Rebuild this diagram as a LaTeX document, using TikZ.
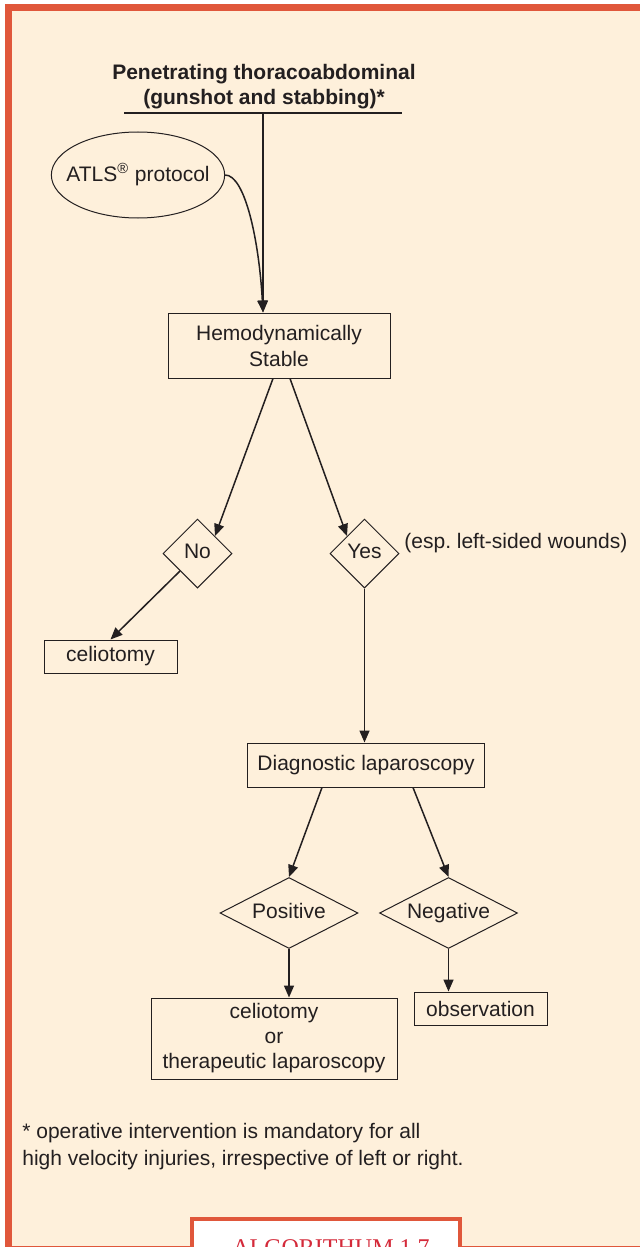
\documentclass[tikz,border=0pt]{standalone}
\usepackage{fontspec}
\setmainfont{Liberation Sans}
\newfontfamily\algofont{Liberation Serif}
\usetikzlibrary{shapes.geometric,arrows.meta,calc}
\definecolor{framered}{HTML}{E0573B}
\definecolor{paper}{HTML}{FEF0DB}
\definecolor{ink}{HTML}{231F20}
\definecolor{algored}{HTML}{D42A3A}
\frenchspacing
\begin{document}
\begin{tikzpicture}[
        x = .5pt, y = -.5pt,
        every node/.style = {font=\fontsize{10.5}{13}\selectfont, text=ink},
        box/.style = {draw=ink, line width=.5pt, inner sep=0pt, align=center},
        choice/.style = {diamond, draw=ink, line width=.5pt, inner sep=0pt, text height=.75em, text depth=.22em},
        link/.style = {draw=ink, line width=.75pt, -{Triangle[length=6pt,width=5pt]}}
    ]
    \fill[white] (0,0) rectangle (640,1247);
    \useasboundingbox (0,0) rectangle (640,1247);
    \fill[paper] (5,4) rectangle (640,1247);
    \fill[framered] (5,4) rectangle (640,11);
    \fill[framered] (5,4) rectangle (12,1247);
    \fill[framered] (5,1245.5) rectangle (640,1247);

    \node (title) [align=center, inner sep=0pt, font=\bfseries\fontsize{10.5}{12.5}\selectfont] at (264,86.5)
        {Penetrating thoracoabdominal\\(gunshot and stabbing)*};
    \coordinate (ruleL) at (124,113);
    \coordinate (ruleR) at (402,113);
    \coordinate (drop) at (263,113);
    \draw[ink, line width=1.2pt] (ruleL) -- (ruleR);

    \node (atls) [ellipse, draw=ink, line width=.5pt, inner xsep=-5.2pt, inner ysep=0pt,
        minimum width=86pt, minimum height=43pt] at (138,175) {ATLS\textsuperscript{\textregistered} protocol};
    \node (hemo) [box, minimum width=111pt, minimum height=32.5pt] at (279,345.5) {Hemodynamically\\Stable};
    \node (no) [choice, minimum width=34.5pt, minimum height=34.5pt] at (197.5,553.5) {No};
    \node (yes) [choice, minimum width=34.5pt, minimum height=34.5pt] at (364.5,553.5) {Yes};
    \node (wounds) [anchor=west, inner sep=0pt] at (404,543) {(esp. left-sided wounds)};
    \node (celio) [box, minimum width=66.5pt, minimum height=16.5pt] at (110.5,656.5) {celiotomy};
    \node (diag) [box, minimum width=118.75pt, minimum height=22pt] at (366,765) {Diagnostic laparoscopy};
    \node (pos) [choice, aspect=2, minimum width=69pt, minimum height=35.5pt] at (289,913) {Positive};
    \node (neg) [choice, aspect=2, minimum width=69pt, minimum height=35.5pt] at (448.5,913) {Negative};
    \node (lap) [box, minimum width=123pt, minimum height=40.5pt, font=\fontsize{10.5}{12.5}\selectfont] at (274,1038.5)
        {celiotomy\\or\\therapeutic laparoscopy};
    \node (obs) [box, minimum width=66.5pt, minimum height=16.5pt] at (480.5,1008.5) {observation};
    \node (note) [anchor=west, align=left, inner sep=0pt, font=\fontsize{10.5}{13.5}\selectfont] at (22,1146.5)
        {* operative intervention is mandatory for all\\high velocity injuries, irrespective of left or right.};
    \node (algo) [anchor=north, draw=framered, line width=2pt, outer sep=1pt, fill=white, minimum width=134pt,
        inner ysep=10.5pt, text=algored, font=\algofont\fontsize{12}{14}\selectfont] at (326,1217) {\hspace*{5pt}ALGORITHUM 1.7};

    \draw[link] (drop) -- (hemo.north -| drop);
    \draw[link] (atls.east) .. controls (245,175) and (259,240) .. (hemo.north -| drop);
    \draw[link] ($(hemo.south)+(-6,0)$) -- (no.north east);
    \draw[link] ($(hemo.south)+(11,0)$) -- (yes.north west);
    \draw[link] (no.south west) -- (celio.north);
    \draw[link] (yes.south) -- (yes.south |- diag.north);
    \draw[link] ($(diag.south)+(-44,0)$) -- (pos.north);
    \draw[link] ($(diag.south)+(47,0)$) -- (neg.north);
    \draw[link] (pos.south) -- (pos.south |- lap.north);
    \draw[link] (neg.south) -- (neg.south |- obs.north);
\end{tikzpicture}
\end{document}
